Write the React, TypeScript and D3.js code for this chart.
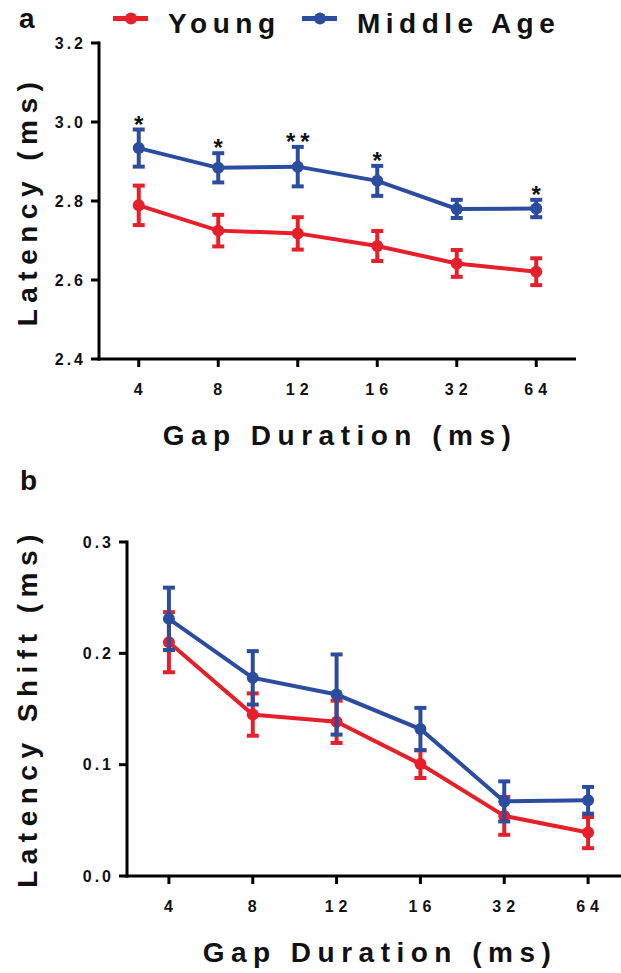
import React from "react";
import * as d3 from "d3";

// ---------- data ----------
const categories = ["4", "8", "12", "16", "32", "64"];

const latencyYoung = [2.789, 2.725, 2.718, 2.686, 2.642, 2.621];
const latencyYoungErr = [0.05, 0.04, 0.041, 0.038, 0.034, 0.034];
const latencyMiddle = [2.934, 2.884, 2.887, 2.851, 2.78, 2.781];
const latencyMiddleErr = [0.047, 0.037, 0.05, 0.038, 0.023, 0.022];
const significance = ["*", "*", "**", "*", "", "*"];

const shiftYoung = [0.21, 0.145, 0.1385, 0.1005, 0.054, 0.039];
const shiftYoungErr = [0.027, 0.019, 0.019, 0.0125, 0.017, 0.014];
const shiftMiddle = [0.231, 0.178, 0.163, 0.132, 0.067, 0.068];
const shiftMiddleErr = [0.028, 0.024, 0.036, 0.019, 0.018, 0.012];

const latencyTicks = [2.4, 2.6, 2.8, 3.0, 3.2];
const shiftTicks = [0.0, 0.1, 0.2, 0.3];

const seriesNames = ["Young", "Middle Age"];

// ---------- style ----------
const RED = "#e5202a";
const BLUE = "#2c4d9f";
const FONT = "'Liberation Sans', Arial, Helvetica, sans-serif";

type Series = { values: number[]; errs: number[]; color: string };

function Panel(props: {
  x0: number;
  x1: number;
  yTop: number;
  yBottom: number;
  domain: [number, number];
  ticks: number[];
  tickFmt: (v: number) => string;
  series: Series[];
  yTitle: string;
  yTitleCenter: number;
  xTitleCenter: number;
  stars?: string[];
  starsSeries?: number;
}) {
  const {
    x0, x1, yTop, yBottom, domain, ticks, tickFmt, series, yTitle,
    yTitleCenter, xTitleCenter, stars, starsSeries,
  } = props;
  const x = d3.scalePoint<string>().domain(categories).range([x0, x1]).padding(0.5);
  const y = d3.scaleLinear().domain(domain).range([yBottom, yTop]);
  const line = d3
    .line<number>()
    .x((_, i) => x(categories[i]) as number)
    .y((d) => y(d));
  const capW = 6;
  return (
    <g>
      {/* axes */}
      <line x1={x0} x2={x0} y1={yTop - 1.5} y2={yBottom + 1.5} stroke="#000" strokeWidth={3} />
      <line x1={x0 - 1.5} x2={x1} y1={yBottom} y2={yBottom} stroke="#000" strokeWidth={3} />
      {ticks.map((t) => (
        <g key={"yt" + t}>
          <line x1={x0 - 8} x2={x0} y1={y(t)} y2={y(t)} stroke="#000" strokeWidth={3} />
          <text
            x={x0 - 13}
            y={y(t)}
            dy="0.36em"
            textAnchor="end"
            fontFamily={FONT}
            fontWeight="bold"
            fontSize={16}
            letterSpacing={3}
            fill="#111"
          >
            {tickFmt(t)}
          </text>
        </g>
      ))}
      {categories.map((c) => (
        <g key={"xt" + c}>
          <line x1={x(c)} x2={x(c)} y1={yBottom} y2={yBottom + 8} stroke="#000" strokeWidth={3} />
          <text
            x={(x(c) as number) + 2}
            y={yBottom + 36}
            textAnchor="middle"
            fontFamily={FONT}
            fontWeight="bold"
            fontSize={16}
            letterSpacing={5}
            fill="#111"
          >
            {c}
          </text>
        </g>
      ))}
      {/* axis titles */}
      <text
        x={xTitleCenter}
        y={yBottom + 86}
        textAnchor="middle"
        fontFamily={FONT}
        fontWeight="bold"
        fontSize={28}
        letterSpacing={6.5}
        fill="#111"
      >
        Gap Duration (ms)
      </text>
      <text
        transform={`translate(37,${yTitleCenter}) rotate(-90)`}
        textAnchor="middle"
        fontFamily={FONT}
        fontWeight="bold"
        fontSize={28}
        letterSpacing={6.5}
        fill="#111"
      >
        {yTitle}
      </text>
      {/* series */}
      {series.map((s, si) => (
        <g key={"s" + si}>
          <path d={line(s.values) || ""} fill="none" stroke={s.color} strokeWidth={4} />
          {s.values.map((v, i) => {
            const cx = x(categories[i]) as number;
            const t = y(v + s.errs[i]);
            const b = y(v - s.errs[i]);
            return (
              <g key={i}>
                <line x1={cx} x2={cx} y1={t} y2={b} stroke={s.color} strokeWidth={4} />
                <line x1={cx - capW} x2={cx + capW} y1={t} y2={t} stroke={s.color} strokeWidth={4} />
                <line x1={cx - capW} x2={cx + capW} y1={b} y2={b} stroke={s.color} strokeWidth={4} />
                <circle cx={cx} cy={y(v)} r={6} fill={s.color} />
              </g>
            );
          })}
        </g>
      ))}
      {stars &&
        stars.map((st, i) => {
          if (!st) return null;
          const s = series[starsSeries ?? 1];
          const cx = x(categories[i]) as number;
          return (
            <text
              key={"st" + i}
              x={cx + (st.length > 1 ? 2.5 : 0)}
              y={y(s.values[i] + s.errs[i]) + 3}
              textAnchor="middle"
              fontFamily={FONT}
              fontWeight="bold"
              fontSize={24}
              letterSpacing={st.length > 1 ? 5 : 0}
              fill="#111"
            >
              {st}
            </text>
          );
        })}
    </g>
  );
}

export default function App() {
  const legendColors = [RED, BLUE];
  const legendX = [113, 302];
  return (
    <svg
      width={621}
      height={973}
      viewBox="0 0 621 973"
      style={{ position: "absolute", left: 0, top: 0, background: "#fff" }}
    >
      <rect width={621} height={973} fill="#fff" />
      {/* panel letters */}
      <text x={19} y={28} fontFamily={FONT} fontWeight="bold" fontSize={28} fill="#111">
        a
      </text>
      <text x={20} y={490} fontFamily={FONT} fontWeight="bold" fontSize={28} fill="#111">
        b
      </text>
      {/* legend */}
      {seriesNames.map((n, i) => (
        <g key={n}>
          <line x1={legendX[i]} x2={legendX[i] + 35} y1={18.5} y2={18.5} stroke={legendColors[i]} strokeWidth={5} />
          <circle cx={legendX[i] + 18} cy={18.5} r={6} fill={legendColors[i]} />
          <text
            x={legendX[i] + 55}
            y={33}
            fontFamily={FONT}
            fontWeight="bold"
            fontSize={28}
            letterSpacing={5.5}
            fill="#111"
          >
            {n}
          </text>
        </g>
      ))}
      <Panel
        x0={99}
        x1={576}
        yTop={43}
        yBottom={359}
        domain={[2.4, 3.2]}
        ticks={latencyTicks}
        tickFmt={(v) => v.toFixed(1)}
        series={[
          { values: latencyYoung, errs: latencyYoungErr, color: RED },
          { values: latencyMiddle, errs: latencyMiddleErr, color: BLUE },
        ]}
        yTitle="Latency (ms)"
        yTitleCenter={201}
        xTitleCenter={340}
        stars={significance}
        starsSeries={1}
      />
      <Panel
        x0={127}
        x1={630}
        yTop={542}
        yBottom={876}
        domain={[0, 0.3]}
        ticks={shiftTicks}
        tickFmt={(v) => v.toFixed(1)}
        series={[
          { values: shiftYoung, errs: shiftYoungErr, color: RED },
          { values: shiftMiddle, errs: shiftMiddleErr, color: BLUE },
        ]}
        yTitle="Latency Shift (ms)"
        yTitleCenter={708}
        xTitleCenter={380}
      />
    </svg>
  );
}
